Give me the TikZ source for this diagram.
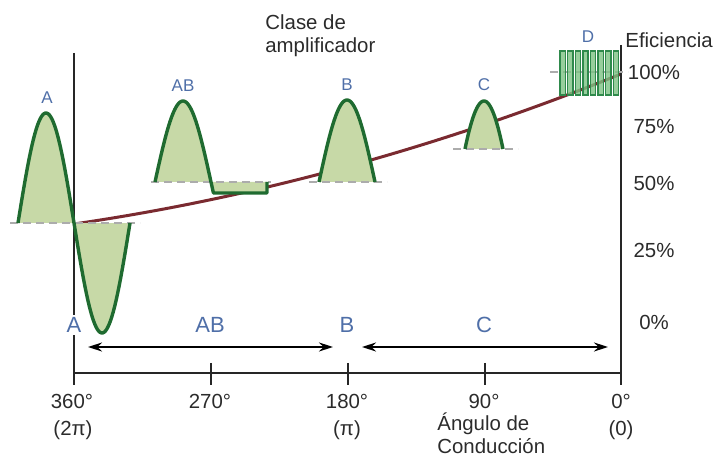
\documentclass[tikz,border=0pt]{standalone}
\usepackage{fontspec}
\setmainfont{Liberation Sans}
\usepackage{tikz}
\usetikzlibrary{arrows.meta}

\definecolor{hijauisi}{HTML}{C7D9A7}
\definecolor{hijaugaris}{HTML}{1F6B30}
\definecolor{hijaud}{HTML}{7DC283}
\definecolor{hijaudgaris}{HTML}{2F8A4C}
\definecolor{coklat}{HTML}{7A2A30}
\definecolor{biru}{HTML}{4F6FA8}
\definecolor{teksgelap}{HTML}{2B2B2B}

\begin{document}
\begin{tikzpicture}[
  x=0.5pt, y=-0.5pt,
  >=Stealth,
  font=\fontsize{10.2}{11.5}\selectfont,
  sumbu/.style={line width=1pt, black!85},
  garisdasar/.style={gray!65, line width=0.9pt, dash pattern=on 4pt off 2.5pt},
  kurvaisi/.style={fill=hijauisi},
  kurvagaris/.style={hijaugaris, line width=1.7pt, line join=round},
  kelas/.style={text=biru, font=\fontsize{11}{12}\selectfont, inner sep=0pt},
  kelaskecil/.style={text=biru, font=\fontsize{8.5}{9}\selectfont, inner sep=0pt},
  teks/.style={text=teksgelap, inner sep=0pt}
]
\useasboundingbox (0,0) rectangle (717,459);

% ----- parameter -----
\def\xkiri{74}
\def\xkanan{621}
\def\ybawah{373}
\def\dmulai{560}

% ----- kurva efisiensi -----
\draw[coklat, line width=1.5pt, domain=\xkiri:\xkanan, samples=80, variable=\x]
  plot ({\x}, {224 - 0.1457*(\x-74) - 2.35*((\x-74)/100)^2});

% ----- isi bentuk gelombang -----
% A: satu periode penuh
\fill[kurvaisi] plot[domain=18:130, samples=120, variable=\x]
  ({\x}, {223 - 110*sin(3.2143*(\x-18))}) -- cycle;
% AB: setengah gelombang + bagian bawah terpotong
\fill[kurvaisi] plot[domain=155:213.4, samples=60, variable=\x]
  ({\x}, {182 - 81*sin(3.2143*(\x-155))}) -- (213.4,193) -- (267,193) -- (267,182) -- cycle;
% B: setengah gelombang
\fill[kurvaisi] plot[domain=319:375, samples=60, variable=\x]
  ({\x}, {182 - 82*sin(3.2143*(\x-319))}) -- cycle;
% C: puncak saja
\fill[kurvaisi] plot[domain=50:130, samples=40, variable=\t]
  ({484 + (\t-90)*0.475}, {149 - 48*(sin(\t)-0.766)/0.234}) -- cycle;

% ----- sumbu -----
\coordinate (kiriAtas) at (\xkiri,53);
\coordinate (kiriBawah) at (\xkiri,385);
\coordinate (sudutKiri) at (\xkiri,\ybawah);
\coordinate (sudutKanan) at (\xkanan,\ybawah);
\coordinate (kananAtas) at (\xkanan,45);
\coordinate (kananBawah) at (\xkanan,385);
\draw[sumbu] (kiriAtas) -- (kiriBawah);
\draw[sumbu] (sudutKiri) -- (sudutKanan);
\draw[sumbu] (kananAtas) -- (kananBawah);
\foreach \xt in {211, 348, 485} {
  \draw[sumbu] (\xt,363) -- (\xt,385);
}

% ----- garis dasar putus-putus -----
\draw[garisdasar] (10,223) -- (140,223);
\draw[garisdasar] (151,182) -- (271,182);
\draw[garisdasar] (309,182) -- (387,182);
\draw[garisdasar] (453,149) -- (518,149);
\draw[garisdasar] (550,72) -- (628,72);

% ----- garis bentuk gelombang -----
\draw[kurvagaris] plot[domain=18:130, samples=120, variable=\x]
  ({\x}, {223 - 110*sin(3.2143*(\x-18))});
\draw[kurvagaris] plot[domain=155:213.4, samples=60, variable=\x]
  ({\x}, {182 - 81*sin(3.2143*(\x-155))}) -- (213.4,193) -- (267,193) -- (267,182);
\draw[kurvagaris] plot[domain=319:375, samples=60, variable=\x]
  ({\x}, {182 - 82*sin(3.2143*(\x-319))});
\draw[kurvagaris] plot[domain=50:130, samples=40, variable=\t]
  ({484 + (\t-90)*0.475}, {149 - 48*(sin(\t)-0.766)/0.234});

% D: pulsa persegi
\foreach \i in {0,...,7} {
  \filldraw[fill=hijaud, fill opacity=0.8, draw=hijaudgaris, line width=0.7pt]
    ({\dmulai+\i*7.6},51) rectangle ++(5.2,44);
}

% ----- panah rentang kelas -----
\coordinate (panahA) at (88,347);
\coordinate (panahB) at (333,347);
\coordinate (panahC) at (362,347);
\coordinate (panahD) at (608,347);
\draw[<->, line width=0.8pt, >={Stealth[length=7pt, width=4.5pt]}] (panahA) -- (panahB);
\draw[<->, line width=0.8pt, >={Stealth[length=7pt, width=4.5pt]}] (panahC) -- (panahD);

% ----- label kelas -----
\node[kelaskecil] (atasA)  at (47,98)  {A};
\node[kelaskecil] (atasAB) at (183,86) {AB};
\node[kelaskecil] (atasB)  at (347,85) {B};
\node[kelaskecil] (atasC)  at (484,85) {C};
\node[kelaskecil] (atasD)  at (588,37) {D};
\node[kelas, fill=white, inner sep=1pt] (bawahA) at (74,325) {A};
\node[kelas] (bawahAB) at (210,325) {AB};
\node[kelas] (bawahB)  at (347,325) {B};
\node[kelas] (bawahC)  at (484,325) {C};

% ----- judul -----
\node[teks, align=left, anchor=west] (judulKelas) at (265,35.5) {Clase de\\amplificador};
\node[teks, anchor=west] (judulEfisiensi) at (625,40) {Eficiencia};
\node[teks, align=left, anchor=west] (judulSudut) at (437,433) {Ángulo de\\Conducción};

% ----- persen -----
\foreach \p/\yp in {100/72, 75/127, 50/183, 25/250, 0/322} {
  \node[teks] (persen\p) at (654,\yp) {\p\%};
}

% ----- sudut -----
\foreach \s/\xs in {360/72, 270/210, 180/347, 90/484, 0/621} {
  \node[teks] (sudut\s) at (\xs,401) {\s°};
}
\node[teks] (radian360) at (73,430)  {(2π)};
\node[teks] (radian180) at (347,430) {(π)};
\node[teks] (radian0)   at (621,430) {(0)};
\end{tikzpicture}
\end{document}
